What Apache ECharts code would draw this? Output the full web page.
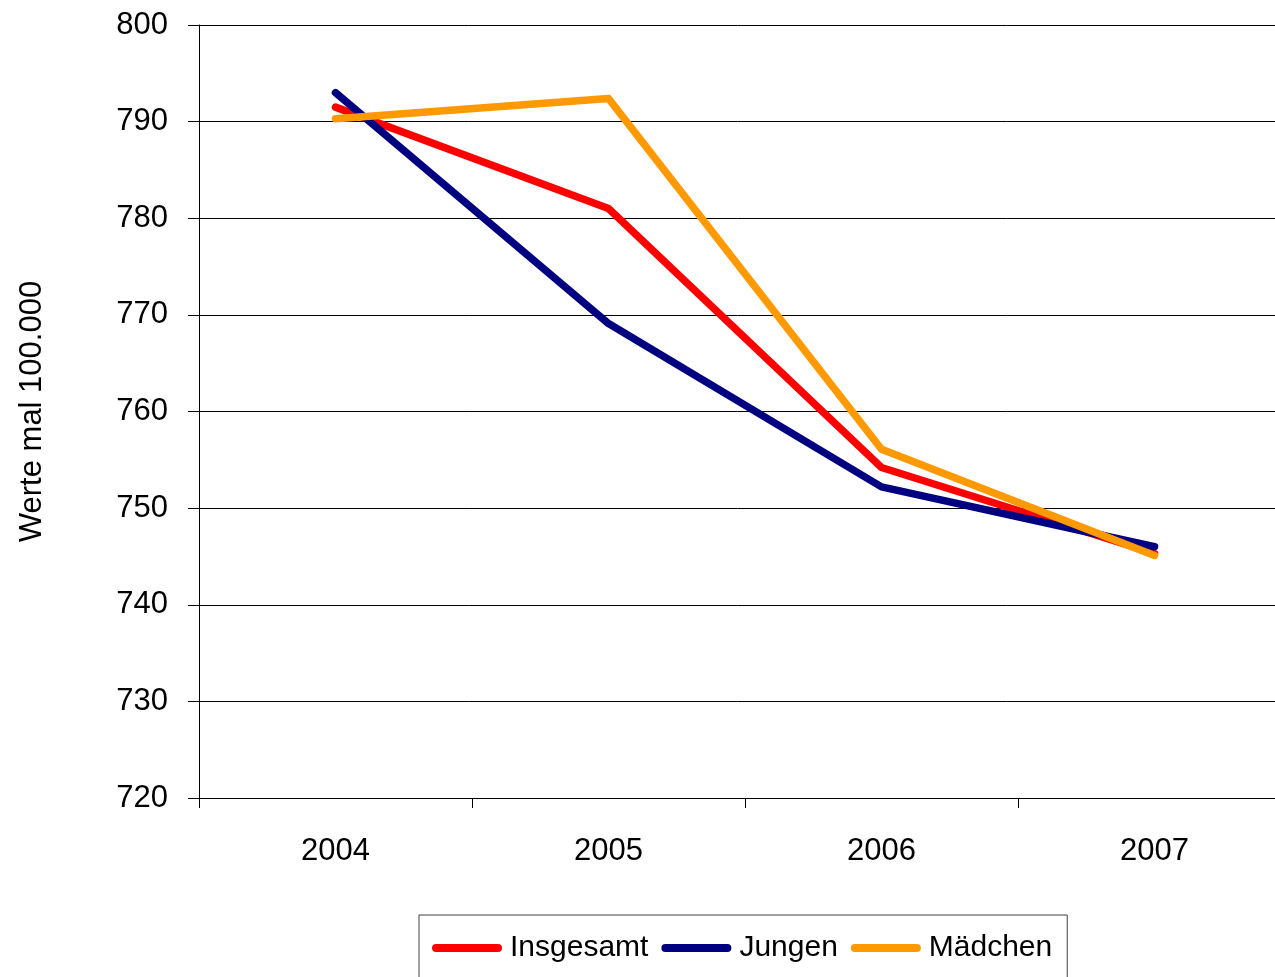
<!DOCTYPE html>
<html>
<head>
<meta charset="utf-8">
<script src="https://cdn.jsdelivr.net/npm/echarts@6/dist/echarts.min.js"></script>
<style>
html,body{margin:0;padding:0;background:#fff;}
#chart{width:1275px;height:977px;}
</style>
</head>
<body>
<div id="chart"></div>
<script>
var years = ['2004', '2005', '2006', '2007'];
var insgesamt = [791.5, 781.0, 754.2, 745.3];
var jungen = [793.0, 769.1, 752.2, 746.0];
var maedchen = [790.3, 792.4, 756.1, 745.1];
var seriesNames = ['Insgesamt', 'Jungen', 'Mädchen'];
var yTicks = { min: 720, max: 800, interval: 10 };

var FONT = '"Liberation Sans", Arial, sans-serif';
var chart = echarts.init(document.getElementById('chart'), null, { renderer: 'canvas' });
var legendIcon = 'path://M4,0 H66 A4,4 0 0 1 66,8 H4 A4,4 0 0 1 4,0 Z';

function lineSeries(name, data, color) {
  return {
    name: name,
    type: 'line',
    data: data,
    symbol: 'none',
    showSymbol: false,
    color: color,
    lineStyle: { color: color, width: 7.5, cap: 'round', join: 'round' },
    itemStyle: { color: color },
    animation: false
  };
}

chart.setOption({
  animation: false,
  backgroundColor: '#ffffff',
  grid: { left: 199, top: 25, right: -16, bottom: 179, containLabel: false, outerBoundsMode: 'none' },
  xAxis: {
    type: 'category',
    data: years,
    boundaryGap: true,
    axisLine: { show: true, lineStyle: { color: '#000', width: 1 } },
    axisTick: { show: true, length: 10, alignWithLabel: false, lineStyle: { color: '#000' } },
    axisLabel: { color: '#000', fontFamily: FONT, fontSize: 31, margin: 38 },
    splitLine: { show: false }
  },
  yAxis: {
    type: 'value',
    min: yTicks.min,
    max: yTicks.max,
    interval: yTicks.interval,
    name: 'Werte mal 100.000',
    nameLocation: 'middle',
    nameRotate: 90,
    nameGap: 151,
    nameTextStyle: { color: '#000', fontFamily: FONT, fontSize: 31 },
    axisLine: { show: true, lineStyle: { color: '#000', width: 1 } },
    axisTick: { show: true, length: 11, lineStyle: { color: '#000' } },
    axisLabel: { color: '#000', fontFamily: FONT, fontSize: 31, margin: 31 },
    splitLine: { show: true, lineStyle: { color: '#000', width: 1 } }
  },
  legend: {
    data: seriesNames,
    left: 419,
    top: 915,
    orient: 'horizontal',
    itemWidth: 70,
    itemHeight: 8,
    itemGap: 13,
    icon: legendIcon,
    padding: [18, 15, 20, 13],
    borderColor: '#404040',
    borderWidth: 1,
    textStyle: { color: '#000', fontFamily: FONT, fontSize: 30, padding: [0, 0, 0, 3] }
  },
  series: [
    lineSeries(seriesNames[0], insgesamt, '#FF0000'),
    lineSeries(seriesNames[1], jungen, '#000080'),
    lineSeries(seriesNames[2], maedchen, '#FF9900')
  ]
});
</script>
</body>
</html>
